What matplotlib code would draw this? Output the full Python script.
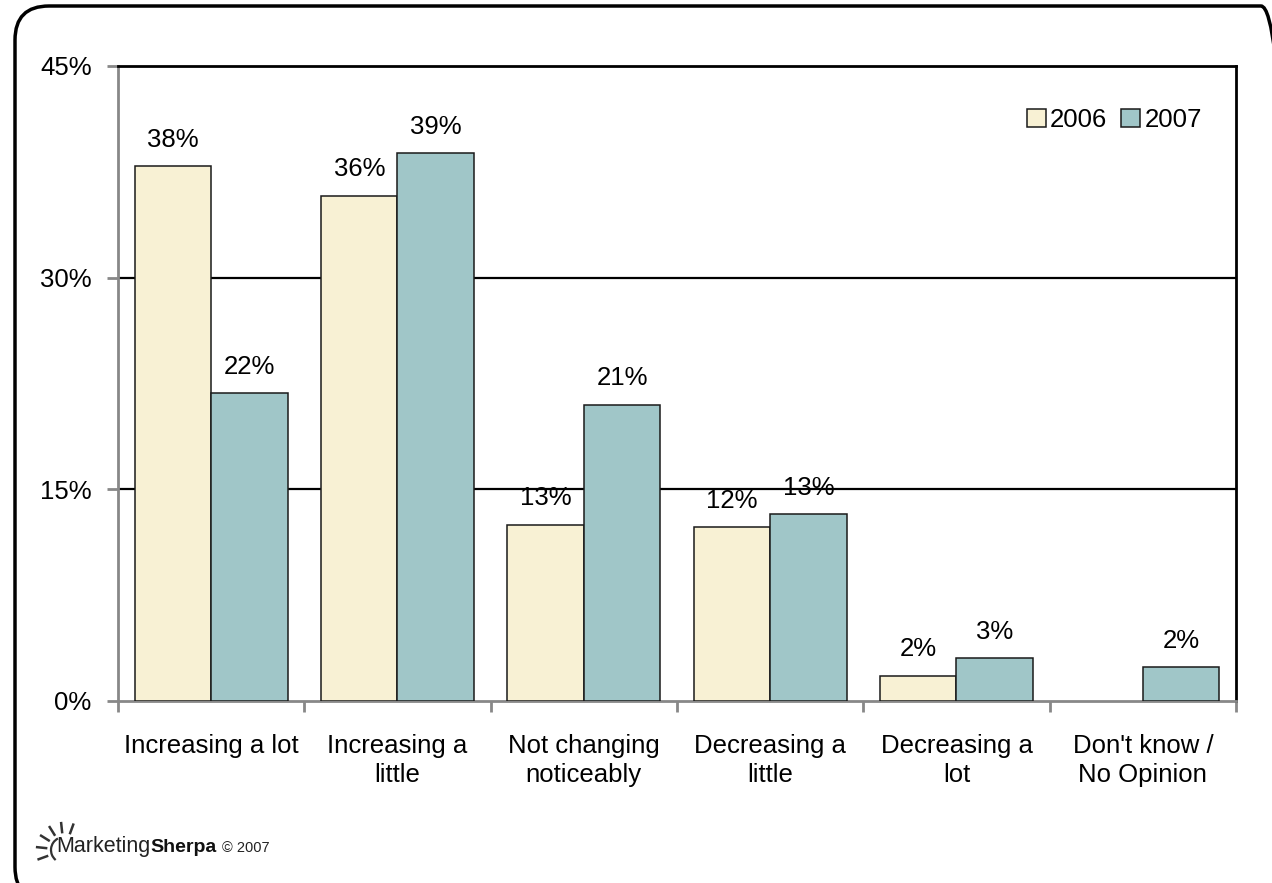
import matplotlib.pyplot as plt
import numpy as np
from matplotlib.patches import FancyBboxPatch, Arc

plt.rcParams["font.family"] = ["Liberation Sans", "DejaVu Sans"]

categories = ["Increasing a lot", "Increasing a\nlittle", "Not changing\nnoticeably",
              "Decreasing a\nlittle", "Decreasing a\nlot", "Don't know /\nNo Opinion"]
values_2006 = [37.9, 35.8, 12.5, 12.3, 1.8, 0.0]
values_2007 = [21.8, 38.8, 21.0, 13.25, 3.05, 2.4]
labels_2006 = ["38%", "36%", "13%", "12%", "2%", ""]
labels_2007 = ["22%", "39%", "21%", "13%", "3%", "2%"]
yticks = [0, 15, 30, 45]

color_2006 = "#f8f1d4"
color_2007 = "#a0c6c8"

W, H = 1272, 883
fig = plt.figure(figsize=(W / 100, H / 100), dpi=100)
# rounded outer frame, in pixel units (display coords)
border = FancyBboxPatch((15, -18), 1280, H - 6 + 18,
                        boxstyle="round,pad=0,rounding_size=34",
                        transform=None, fill=False, lw=2.5, ec="black", clip_on=False)
fig.patches.append(border)

ax = fig.add_axes([118 / W, 1 - 701 / H, 1118 / W, 635 / H])
x = np.arange(len(categories))
w = 0.41
bars06 = ax.bar(x - w / 2, values_2006, w, color=color_2006, edgecolor="#1a1a1a", lw=1.1, label="2006", zorder=3)
bars07 = ax.bar(x + w / 2, values_2007, w, color=color_2007, edgecolor="#1a1a1a", lw=1.1, label="2007", zorder=3)
for b, v in zip(bars06, values_2006):
    if v == 0:
        b.set_linewidth(0)

for bars, labs, vals in [(bars06, labels_2006, values_2006), (bars07, labels_2007, values_2007)]:
    for b, lab, v in zip(bars, labs, vals):
        if lab:
            ax.annotate(lab, (b.get_x() + b.get_width() / 2, v), xytext=(0, 19),
                        textcoords="offset points", ha="center", va="center", fontsize=18.5, zorder=4)

ax.set_xlim(-0.5, len(categories) - 0.5)
ax.set_ylim(0, 45)
ax.set_yticks(yticks)
ax.set_yticklabels([f"{t}%" for t in yticks], fontsize=18.5)
for t in [15, 30]:
    ax.axhline(t, color="black", lw=1.6, zorder=1)

ax.set_xticks(np.arange(len(categories) + 1) - 0.5, minor=False)
ax.set_xticklabels([])
ax.set_xticks(x, minor=True)
ax.set_xticklabels(categories, minor=True, fontsize=18.5, linespacing=1.25)
ax.tick_params(axis="x", which="minor", length=0, pad=24)
ax.tick_params(axis="x", which="major", length=8, width=2, color="#888888", direction="out")
ax.tick_params(axis="y", length=8, width=2, color="#888888", pad=11)

ax.spines["left"].set_color("#888888")
ax.spines["bottom"].set_color("#888888")
for s in ["left", "bottom", "top", "right"]:
    ax.spines[s].set_linewidth(2)

ax.legend(loc="center right", bbox_to_anchor=(0.99, 0.915), frameon=False, fontsize=18.5,
          handlelength=0.75, handleheight=0.75, handletextpad=0.15, columnspacing=0.55, ncol=2)

# MarketingSherpa logo
base_y = 1 - 852 / H
t1 = fig.text(56 / W, base_y, "Marketing", fontsize=15.5, va="baseline", ha="left", color="#222222")
fig.canvas.draw()
renderer = fig.canvas.get_renderer()
bb = t1.get_window_extent(renderer=renderer)
t2 = fig.text(bb.x1 / W, base_y, "Sherpa", fontsize=14, fontweight="bold", va="baseline", ha="left",
              color="#111111")
bb2 = t2.get_window_extent(renderer=renderer)
fig.text((bb2.x1 + 5) / W, base_y, "© 2007", fontsize=10.5, va="baseline", ha="left", color="#222222")
cx, cy = 64, 850
fig.add_artist(Arc((cx / W, 1 - cy / H), 26 / W, 26 / H, theta1=110, theta2=240,
                   transform=fig.transFigure, color="#333333", lw=1.6))
for ang in np.linspace(70, 200, 6):
    a = np.deg2rad(ang)
    fig.add_artist(plt.Line2D([(cx + 18 * np.cos(a)) / W, (cx + 27 * np.cos(a)) / W],
                              [1 - (cy - 18 * np.sin(a)) / H, 1 - (cy - 27 * np.sin(a)) / H],
                              color="#333333", lw=1.8))

fig.savefig("out.png", dpi=100)
